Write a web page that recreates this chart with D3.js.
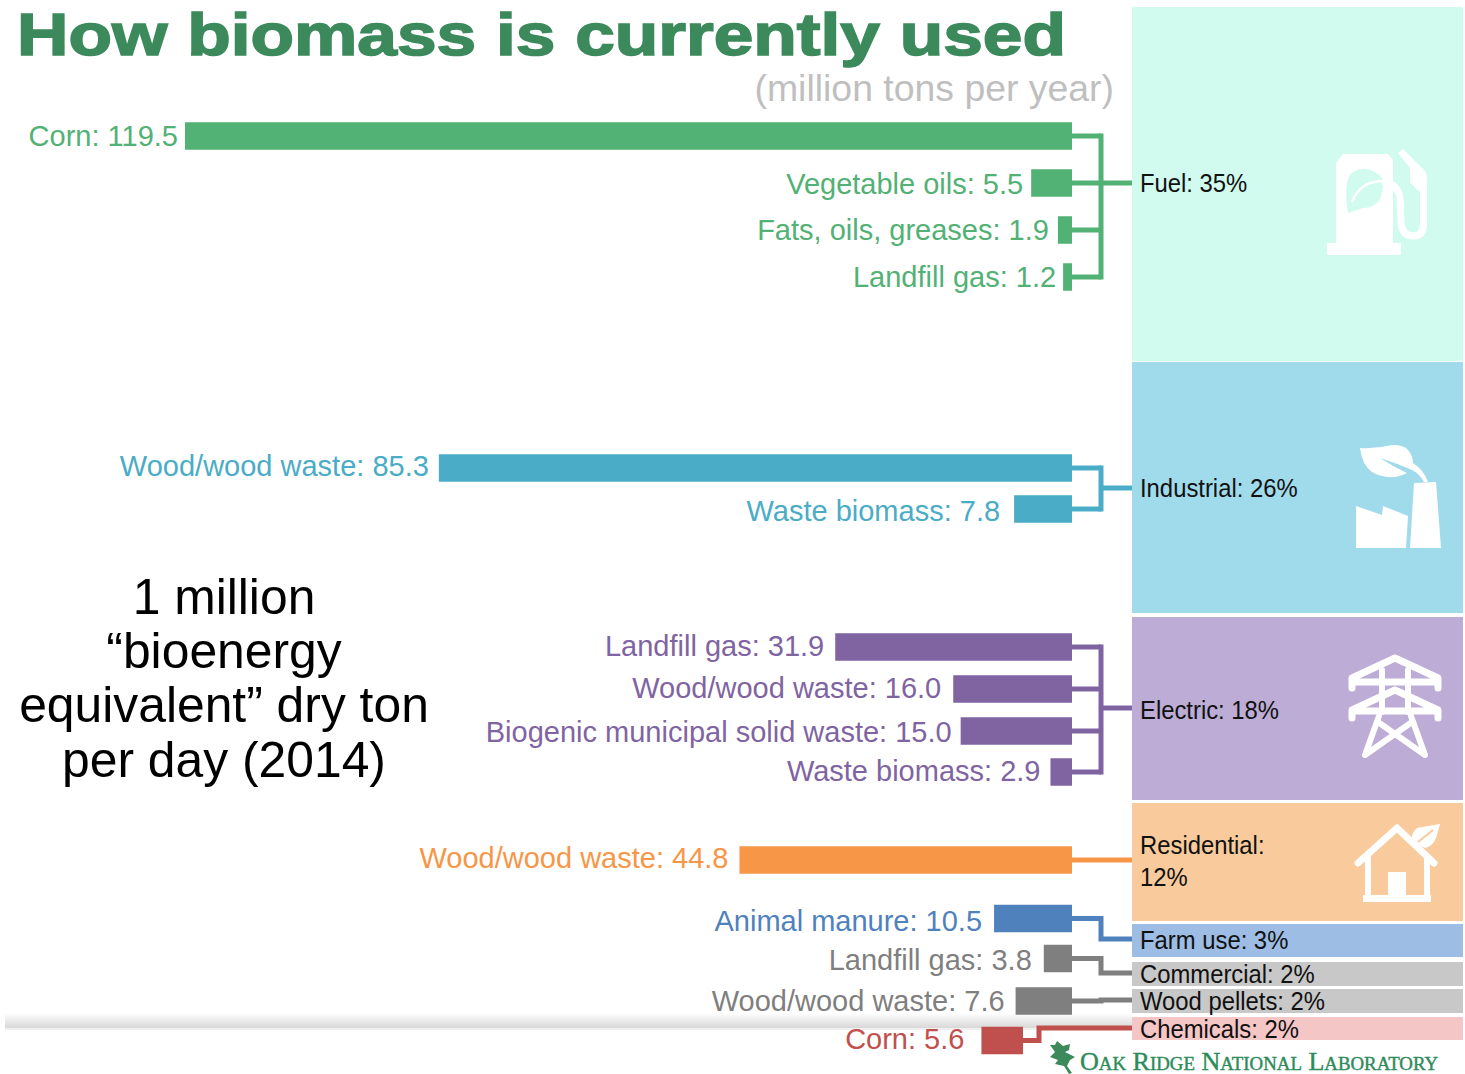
<!DOCTYPE html>
<html>
<head>
<meta charset="utf-8">
<script src="https://cdn.jsdelivr.net/npm/d3@7"></script>
<style>
html,body{margin:0;padding:0;background:#fff;}
svg{display:block;font-family:"Liberation Sans",Arial,sans-serif;}
</style>
</head>
<body>
<div id="chart"></div>
<script>
// dados
var sectorNames = ["Fuel","Industrial","Electric","Residential","Farm use","Commercial","Wood pellets","Chemicals"];
var sectorShares = [35,26,18,12,3,2,2,2];
var sourceNames = ["Corn","Vegetable oils","Fats, oils, greases","Landfill gas",
    "Wood/wood waste","Waste biomass",
    "Landfill gas","Wood/wood waste","Biogenic municipal solid waste","Waste biomass",
    "Wood/wood waste","Animal manure","Landfill gas","Wood/wood waste","Corn"];
var sourceValues = [119.5,5.5,1.9,1.2,85.3,7.8,31.9,16.0,15.0,2.9,44.8,10.5,3.8,7.6,5.6];
var sourceSector = [0,0,0,0,1,1,2,2,2,2,3,4,5,6,7];
var titleText = "How biomass is currently used";
var unitText = "(million tons per year)";
var noteLines = ["1 million","“bioenergy","equivalent” dry ton","per day (2014)"];
var logoText = "Oak Ridge National Laboratory";

// layout
var width = 1465, height = 1074;
var barRight = 1072, barH = 27.5, trunkX = 1101, boxLeft = 1132, boxRight = 1463;
var rowCenters = [136,183,230,277,468,509,647,689,731,772,860,918.5,958.5,1001,1040.5];
var labelGaps = [7,8,9,7,10,14,11,12,9,10,11,12,12,11,17];
var labelShift = [0,1,0,0,-2,2,-1,-1,1,-1,-2,2,1,0,-2];
var boxTops = [7,362,617,803,924,962,989,1017];
var boxBottoms = [361,613,800,921,957,986,1013,1040];
var trunkY = [183,488,708,860,939,973,1000,1028];
var barColors = ["#52b174","#4aacc6","#8064a2","#f79646","#4f81bd","#7f7f7f","#7f7f7f","#c0504d"];
var boxColors = ["#d1fbee","#a0dbec","#bdacd5","#f9cb9c","#9dbde5","#c8c8c8","#c8c8c8","#f5c6c6"];

var svg = d3.select("#chart").append("svg").attr("width",width).attr("height",height);

var xs = d3.scaleLinear().domain([0,119.5]).range([0,887]);
var ys = d3.scaleOrdinal().domain(d3.range(sourceNames.length)).range(rowCenters);
var topS = d3.scaleOrdinal().domain(sectorNames).range(boxTops);
var botS = d3.scaleOrdinal().domain(sectorNames).range(boxBottoms);
var fill = d3.scaleOrdinal().domain(d3.range(8)).range(barColors);

// faixa de sombra que aparece na imagem original
var grad = svg.append("defs").append("linearGradient").attr("id","shade")
    .attr("x1",0).attr("y1",0).attr("x2",0).attr("y2",1);
grad.append("stop").attr("offset","0%").attr("stop-color","#ffffff");
grad.append("stop").attr("offset","100%").attr("stop-color","#d8d8d8");
svg.append("rect").attr("x",5).attr("y",1013).attr("width",1127).attr("height",15).attr("fill","url(#shade)");
svg.append("rect").attr("x",5).attr("y",1028).attr("width",1127).attr("height",2).attr("fill","#f0f0f0");

// caixas dos setores
svg.selectAll("rect.box").data(sectorNames).enter().append("rect")
    .attr("class","box")
    .attr("x",boxLeft)
    .attr("y",function(d){return topS(d);})
    .attr("width",boxRight-boxLeft)
    .attr("height",function(d){return botS(d)-topS(d);})
    .attr("fill",function(d,i){return boxColors[i];});

// conectores
var line = d3.line();
function barEnd(i){
    // a barra de milho 5.6 termina antes das outras
    return i===14 ? 1023 : barRight;
}
var links = svg.append("g").attr("fill","none").attr("stroke-width",5);
sourceValues.forEach(function(v,i){
    var s = sourceSector[i], pts;
    if(s<3) pts = [[barEnd(i),ys(i)],[trunkX,ys(i)]];
    else if(s===3) pts = [[barEnd(i),ys(i)],[boxLeft,ys(i)]];
    else if(s===7) pts = [[barEnd(i),ys(i)],[1039,ys(i)],[1039,trunkY[s]],[boxLeft,trunkY[s]]];
    else pts = [[barEnd(i),ys(i)],[trunkX,ys(i)],[trunkX,trunkY[s]],[boxLeft,trunkY[s]]];
    links.append("path").attr("d",line(pts)).attr("stroke",fill(s));
});
[0,1,2].forEach(function(s){
    var rows = d3.range(sourceNames.length).filter(function(i){return sourceSector[i]===s;});
    links.append("path")
        .attr("d",line([[trunkX,ys(rows[0])-2.5],[trunkX,ys(rows[rows.length-1])+2.5]]))
        .attr("stroke",fill(s));
    links.append("path")
        .attr("d",line([[trunkX,trunkY[s]],[boxLeft,trunkY[s]]]))
        .attr("stroke",fill(s));
});

// barras
svg.selectAll("rect.bar").data(sourceValues).enter().append("rect")
    .attr("class","bar")
    .attr("x",function(d,i){return barEnd(i)-xs(d);})
    .attr("y",function(d,i){return ys(i)-barH/2;})
    .attr("width",function(d){return xs(d);})
    .attr("height",barH)
    .attr("fill",function(d,i){return fill(sourceSector[i]);});

svg.selectAll("text.src").data(sourceValues).enter().append("text")
    .attr("class","src")
    .attr("x",function(d,i){return barEnd(i)-xs(d)-labelGaps[i];})
    .attr("y",function(d,i){return ys(i)+labelShift[i]+10;})
    .attr("text-anchor","end")
    .attr("font-size",29)
    .attr("fill",function(d,i){return fill(sourceSector[i]);})
    .text(function(d,i){return sourceNames[i]+": "+d.toFixed(1);});

// rótulos dos setores (a fonte do original é mais estreita)
var sectorLabelY = [192,497,719,null,949,983,1010,1038];
function sectorText(y,t){
    svg.append("text")
        .attr("transform","translate(1140,"+y+") scale(0.9,1)")
        .attr("font-size",26.5)
        .attr("fill","#111")
        .text(t);
}
sectorNames.forEach(function(n,i){
    if(i===3){
        sectorText(854,n+":");
        sectorText(886,sectorShares[i]+"%");
    } else {
        sectorText(sectorLabelY[i],n+": "+sectorShares[i]+"%");
    }
});

// titulo
svg.append("text").attr("x",17).attr("y",54.5)
    .attr("font-weight","bold")
    .attr("font-size",59.5).attr("textLength",1049).attr("lengthAdjust","spacingAndGlyphs")
    .attr("fill","#3c8a5c").attr("stroke","#3c8a5c").attr("stroke-width",1.6)
    .text(titleText);
svg.append("text").attr("x",1114).attr("y",101).attr("text-anchor","end")
    .attr("font-size",37.4).attr("fill","#bfbfbf").text(unitText);

// nota
svg.selectAll("text.note").data(noteLines).enter().append("text")
    .attr("class","note")
    .attr("x",224)
    .attr("y",function(d,i){return 614+i*54.2;})
    .attr("text-anchor","middle")
    .attr("font-size",49.8)
    .attr("fill","#000")
    .text(function(d){return d;});

// icones
var white = "#fff";
function strokeIcon(d,w){
    svg.append("path").attr("d",d).attr("fill","none").attr("stroke",white)
        .attr("stroke-width",w).attr("stroke-linejoin","round").attr("stroke-linecap","round");
}
function fillIcon(d,c){
    svg.append("path").attr("d",d).attr("fill",c||white);
}
// bomba
fillIcon("M1336 163L1343 154H1388L1393 160V243H1401V255H1327V243H1336Z");
fillIcon("M1348 213Q1345 195 1347 183Q1349 174 1353 172Q1360 168 1367 169Q1376 171 1382 178Q1385 185 1383 187Q1381 199 1377 203Q1371 208 1363 208Z",boxColors[0]);
svg.append("path").attr("d","M1352 202Q1360 181 1383 181").attr("fill","none").attr("stroke",white).attr("stroke-width",2.5);
fillIcon("M1398 153L1403 149L1425 171Q1427 174 1427 180V195L1417 190L1410 182V168Z");
strokeIcon("M1385 183Q1398 184 1400 198L1401 222Q1402 236 1413 236Q1423.5 236 1423.5 224V186",7);
// fabrica
fillIcon("M1414 483L1436 482L1441 548H1410Z");
fillIcon("M1356 506L1382 515L1383 506L1408 516L1406 548H1356Z");
fillIcon("M1360 448Q1376 449 1392 445Q1404 445 1408 450Q1413 456 1413 463Q1424 470 1428 482H1424Q1420 474 1412 470Q1396 463 1380 458Q1392 466 1407 473Q1398 478 1388 477Q1378 476 1372 472Q1362 465 1360 448Z");
// torre
strokeIcon("M1352 688V678L1395 658L1438 678V688M1352 682H1438",7);
strokeIcon("M1352 718V710L1395 690L1438 710V718M1352 711H1438",7);
strokeIcon("M1382 670V712M1408 670V712",6);
strokeIcon("M1379 716L1365 755L1412 722M1411 716L1425 755L1378 722",6);
// casa
strokeIcon("M1358 863L1397 828L1434 863",7);
strokeIcon("M1368 858V897M1427 858V897",6);
fillIcon("M1363 895H1431V902H1363ZM1388 872H1406V896H1388Z");
fillIcon("M1440 824L1417 828Q1412 832 1412 838Q1418 845 1425 848Q1433 846 1436 838Z");
svg.append("path").attr("d","M1418 842L1433 830").attr("fill","none").attr("stroke",boxColors[3]).attr("stroke-width",2);

// logo
fillIcon("M1057 1041L1063 1046L1070 1044L1069 1050L1065 1052L1075 1057L1070 1060L1067 1066L1072 1073L1069 1074L1064 1066L1055 1064L1058 1060L1050 1057L1055 1052L1050 1045L1055 1045Z","#3c8a5c");
svg.append("text").attr("x",1080).attr("y",1070)
    .style("font-family","'Liberation Serif',serif").style("font-variant","small-caps")
    .attr("font-size",25).attr("textLength",358).attr("lengthAdjust","spacingAndGlyphs")
    .attr("fill","#2e8b5a").attr("stroke","#2e8b5a").attr("stroke-width",0.4)
    .text(logoText);
</script>
</body>
</html>
